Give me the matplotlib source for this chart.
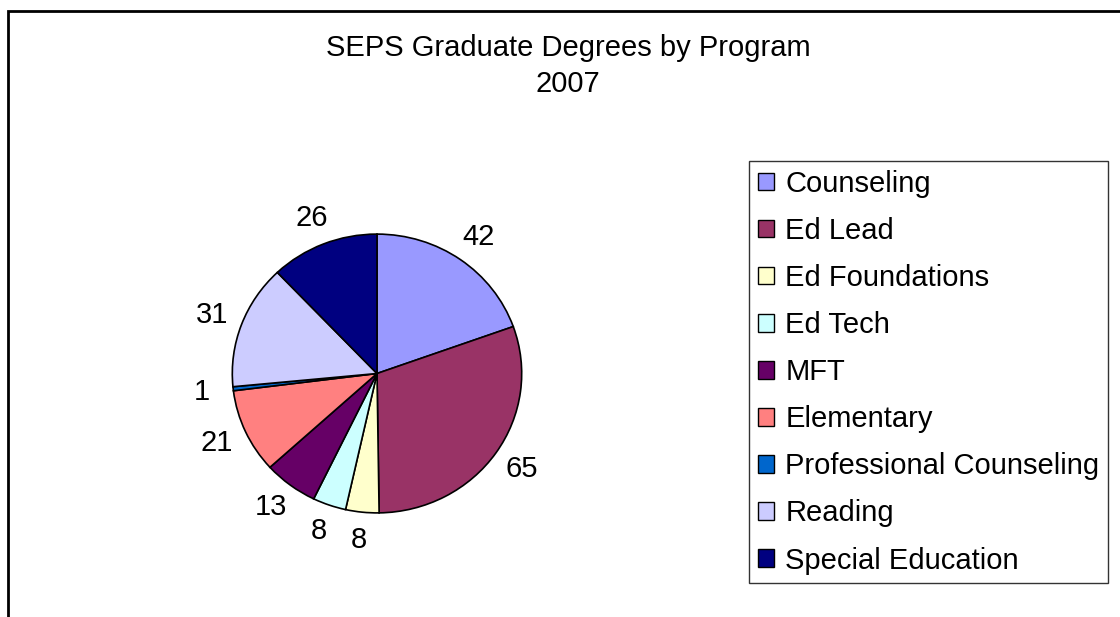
import numpy as np
import matplotlib.pyplot as plt
from matplotlib.patches import Rectangle, Patch

plt.rcParams['font.family'] = ['Liberation Sans', 'DejaVu Sans']

# data
programs = ['Counseling', 'Ed Lead', 'Ed Foundations', 'Ed Tech', 'MFT',
            'Elementary', 'Professional Counseling', 'Reading', 'Special Education']
degrees = [42, 65, 8, 8, 13, 21, 1, 31, 26]
colors = ['#9999FF', '#993366', '#FFFFCC', '#CCFFFF', '#660066',
          '#FF8080', '#0066CC', '#CCCCFF', '#000080']

W, H = 1120, 617
fs = 21
fig = plt.figure(figsize=(W / 100, H / 100), dpi=100)
fig.patch.set_facecolor('white')

# outer chart frame (right and bottom edges run off the picture)
fig.patches.append(Rectangle((8 / W, -0.1), 1.2, 1 - 10.5 / H + 0.1,
                             transform=fig.transFigure, fill=False,
                             edgecolor='black', lw=2.0, clip_on=False))

fig.text(568 / W, 1 - 47.5 / H, 'SEPS Graduate Degrees by Program',
         ha='center', va='center', fontsize=fs)
fig.text(568 / W, 1 - 83.5 / H, '2007', ha='center', va='center', fontsize=fs)

# pie axes, slightly wider than tall like the original
rx, ry = 144.7, 139.4
cx, cy = 377, 373.5
ax = fig.add_axes([(cx - 1.25 * rx) / W, (H - cy - 1.25 * ry) / H,
                   2.5 * rx / W, 2.5 * ry / H])
wedges, _ = ax.pie(degrees, colors=colors, startangle=90, counterclock=False,
                   wedgeprops=dict(edgecolor='black', linewidth=1.2))
ax.set_aspect('auto')
ax.set_xlim(-1.25, 1.25)
ax.set_ylim(-1.25, 1.25)
ax.axis('off')

for w, v in zip(wedges, degrees):
    mid = np.deg2rad((w.theta1 + w.theta2) / 2)
    ax.text(1.22 * np.cos(mid), 1.2 * np.sin(mid), str(v),
            ha='center', va='center', fontsize=fs)

handles = [Patch(facecolor=c, edgecolor='black', linewidth=1.0) for c in colors]
leg = fig.legend(handles, programs, loc='upper left',
                 bbox_to_anchor=(749 / W, 1 - 161 / H), borderaxespad=0,
                 fontsize=fs, frameon=True, fancybox=False, shadow=False,
                 handlelength=0.55, handleheight=0.55, handletextpad=0.4,
                 labelspacing=0.655, borderpad=0.3)
leg.get_frame().set_edgecolor('black')
leg.get_frame().set_linewidth(1.0)

fig.savefig('out.png', dpi=100, facecolor='white')
